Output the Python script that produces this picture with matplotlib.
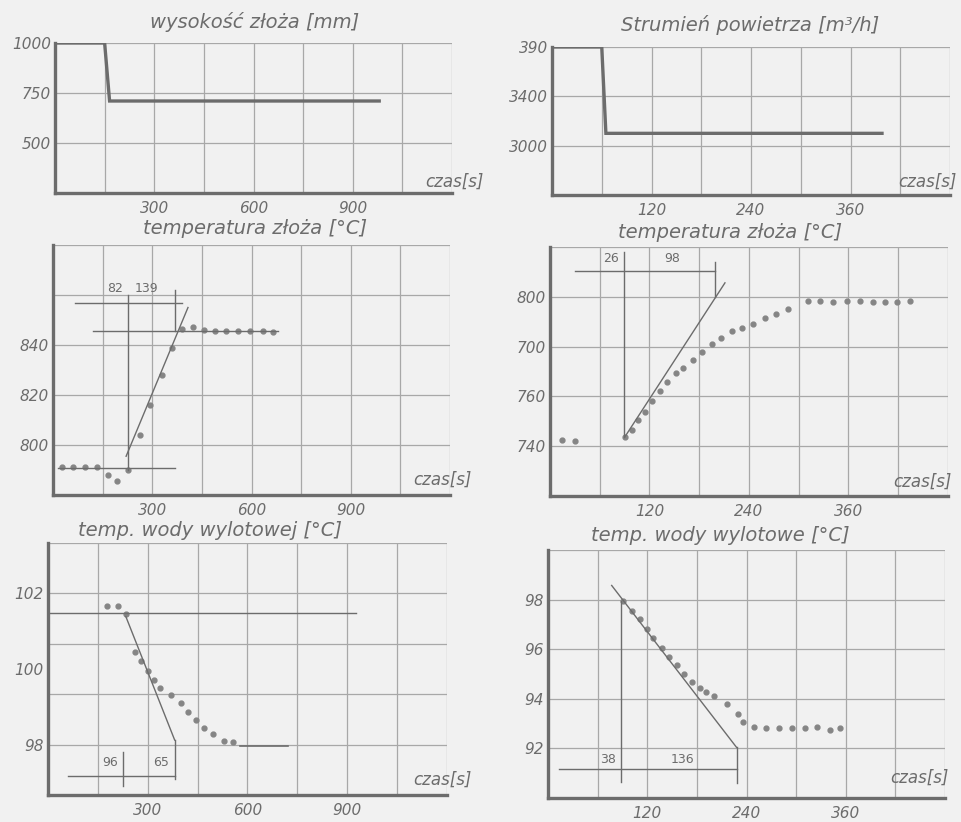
import matplotlib.pyplot as plt
import numpy as np

W, H = 962, 822
BG = '#f1f1f1'
INK = '#6c6c6c'
GRID = '#a8a8a8'
FONT = ['DejaVu Sans']

# --- panel 1: wysokosc zloza [mm]
h_t = [0, 150, 165, 980]
h_v = [1000, 1000, 710, 710]

# --- panel 2: strumien powietrza [m3/h]
q_t = [0, 60, 65, 398]
q_v = [3800, 3800, 3100, 3100]

# --- panel 3: temperatura zloza, czas do 1200 s
ta_t = [27, 60, 97, 133, 166, 194, 228, 263, 293, 329, 360, 390, 423, 457,
        490, 523, 560, 596, 635, 665]
ta_v = [791.4, 791.4, 791.4, 791.4, 788.0, 785.7, 790.0, 804.0, 816.0, 828.0,
        839.0, 846.5, 847.3, 846.0, 845.5, 845.5, 845.5, 845.5, 845.7, 845.3]
ta_fit_t = [221, 408]
ta_fit_v = [795.5, 855.0]
ta_marks = ['82', '139']
ta_marks_t = [188, 284]

# --- panel 4: temperatura zloza, czas do 480 s
tb_t = [14, 30, 90, 98.5, 106, 115, 123, 133, 141, 151.6, 160, 172.6, 183,
        195, 206, 219, 231, 245, 259, 273, 287, 311, 326, 341, 358, 374,
        390, 404, 418, 434]
tb_v = [742.5, 742.0, 743.6, 746.5, 750.4, 753.6, 758.0, 762.0, 765.6, 769.2,
        771.6, 774.5, 778.0, 781.2, 783.3, 786.3, 787.3, 789.2, 791.6, 793.0,
        795.0, 798.4, 798.4, 798.0, 798.4, 798.2, 798.0, 798.0, 798.0, 798.2]
tb_fit_t = [90, 211]
tb_fit_v = [743.6, 805.6]
tb_marks = ['26', '98']
tb_marks_t = [74, 147]

# --- panel 5: temp. wody wylotowej, czas do 1200 s
wa_t = [178, 211, 234, 261, 281, 301, 318, 338, 371, 399, 421, 444, 468,
        496, 528, 556]
wa_v = [101.66, 101.66, 101.45, 100.46, 100.21, 99.96, 99.72, 99.50, 99.31,
        99.10, 98.86, 98.66, 98.43, 98.28, 98.10, 98.06]
wa_fit_t = [234, 381]
wa_fit_v = [101.39, 98.12]
wa_marks = ['96', '65']
wa_marks_t = [186, 341]

# --- panel 6: temp. wody wylotowej, czas do 480 s
wb_t = [91, 101, 111, 119.4, 127.4, 137.5, 146.7, 155.7, 164.5, 173.8, 183.9,
        191, 200.8, 216, 230, 236, 249, 264, 279, 295, 311, 325, 341, 353]
wb_v = [97.96, 97.53, 97.20, 96.80, 96.46, 96.06, 95.69, 95.37, 95.00, 94.66,
        94.44, 94.26, 94.13, 93.80, 93.40, 93.06, 92.86, 92.84, 92.84, 92.82,
        92.84, 92.86, 92.76, 92.84]
wb_fit_t = [77, 228]
wb_fit_v = [98.57, 92.04]
wb_marks = ['38', '136']
wb_marks_t = [72.6, 163]

fig = plt.figure(figsize=(W / 100, H / 100), dpi=100)
fig.patch.set_facecolor(BG)


def add_panel(left, top, right, bottom):
    return fig.add_axes([left / W, 1 - bottom / H, (right - left) / W, (bottom - top) / H])


def setup(ax, xlim, ylim, xstep, ystep, xticks, yticks, ylabels):
    ax.set_facecolor('none')
    ax.set_xlim(*xlim)
    ax.set_ylim(*ylim)
    # hand-drawn grid
    for x in np.arange(xlim[0] + xstep, xlim[1] + 1e-6, xstep):
        ax.axvline(x, color=GRID, lw=0.9, zorder=0)
    for y in np.arange(ylim[0] + ystep, ylim[1] + 1e-6, ystep):
        ax.axhline(y, color=GRID, lw=0.9, zorder=0)
    ax.set_xticks(xticks)
    ax.set_xticklabels([str(t) for t in xticks])
    ax.set_yticks(yticks)
    ax.set_yticklabels(ylabels)
    ax.tick_params(length=0, colors=INK, labelsize=11)
    ax.tick_params(axis='x', pad=6)
    ax.tick_params(axis='y', pad=3)
    for lab in ax.get_xticklabels() + ax.get_yticklabels():
        lab.set_fontstyle('italic')
        lab.set_family(FONT)
    for s in ['left', 'bottom']:
        ax.spines[s].set_color(INK)
        ax.spines[s].set_linewidth(2.4)
    for s in ['top', 'right']:
        ax.spines[s].set_visible(False)


def title(x, y, text):
    fig.text(x / W, 1 - y / H, text, ha='center', va='center', fontsize=14,
             style='italic', color=INK, family=FONT)


def czas(x, y):
    fig.text(x / W, 1 - y / H, 'czas[s]', ha='left', va='center',
             fontsize=12, style='italic', color=INK, family=FONT)


def marks(ax, labels, t, y):
    for lab, x in zip(labels, t):
        ax.text(x, y, lab, ha='center', va='center', fontsize=9, color=INK, family=FONT)


# panel 1
ax1 = add_panel(55, 43, 452, 193)
setup(ax1, (0, 1200), (250, 1000), 150, 250, [300, 600, 900],
      [500, 750, 1000], ['500', '750', '1000'])
ax1.plot(h_t, h_v, color=INK, lw=2.4, solid_joinstyle='miter')
czas(425, 182)
title(255, 22, 'wysokość złoża [mm]')

# panel 2
ax2 = add_panel(552, 47, 950, 195)
setup(ax2, (0, 480), (2600, 3800), 60, 400, [120, 240, 360],
      [3000, 3400, 3800], ['3000', '3400', '390'])
ax2.plot(q_t, q_v, color=INK, lw=2.4, solid_joinstyle='miter')
czas(898, 182)
title(750, 25, 'Strumień powietrza [m³/h]')

# panel 3
ax3 = add_panel(53, 245, 450, 495)
setup(ax3, (0, 1200), (780, 880), 150, 20, [300, 600, 900],
      [800, 820, 840], ['800', '820', '840'])
ax3.plot(ta_t, ta_v, 'o', color='#858585', ms=3.5)
ax3.plot(ta_fit_t, ta_fit_v, color=INK, lw=1.0)
ax3.plot([15, 370], [791, 791], color=INK, lw=1.0)
ax3.plot([120, 680], [845.5, 845.5], color=INK, lw=1.0)
ax3.plot([67, 390], [856.7, 856.7], color=INK, lw=1.0)
ax3.plot([228, 228], [790, 860], color=INK, lw=1.0)
ax3.plot([369, 369], [845.5, 862], color=INK, lw=1.0)
marks(ax3, ta_marks, ta_marks_t, 862.5)
czas(413, 480)
title(255, 228, 'temperatura złoża [°C]')

# panel 4
ax4 = add_panel(550, 247, 948, 496)
setup(ax4, (0, 480), (720, 820), 60, 20, [120, 240, 360],
      [740, 760, 780, 800], ['740', '760', '700', '800'])
ax4.plot(tb_t, tb_v, 'o', color='#858585', ms=3.5)
ax4.plot(tb_fit_t, tb_fit_v, color=INK, lw=1.0)
ax4.plot([30, 199], [810.4, 810.4], color=INK, lw=1.0)
ax4.plot([88.7, 88.7], [743.6, 818], color=INK, lw=1.0)
ax4.plot([199, 199], [800, 814], color=INK, lw=1.0)
marks(ax4, tb_marks, tb_marks_t, 815.5)
czas(893, 482)
title(730, 233, 'temperatura złoża [°C]')

# panel 5
ax5 = add_panel(48, 543, 447, 795)
setup(ax5, (0, 1200), (98 - 4 / 3, 98 + 16 / 3), 150, 4 / 3, [300, 600, 900],
      [98, 100, 102], ['98', '100', '102'])
ax5.plot(wa_t, wa_v, 'o', color='#858585', ms=3.5)
ax5.plot(wa_fit_t, wa_fit_v, color=INK, lw=1.0)
ax5.plot([6, 926], [101.47, 101.47], color=INK, lw=1.0)
ax5.plot([576, 721], [97.95, 97.95], color=INK, lw=1.2)
ax5.plot([61, 381], [97.16, 97.16], color=INK, lw=1.0)
ax5.plot([381, 381], [98.12, 97.1], color=INK, lw=1.0)
ax5.plot([226, 226], [97.8, 96.9], color=INK, lw=1.0)
marks(ax5, wa_marks, wa_marks_t, 97.53)
czas(413, 780)
title(210, 530, 'temp. wody wylotowej [°C]')

# panel 6
ax6 = add_panel(548, 550, 945, 798)
setup(ax6, (0, 480), (90, 100), 60, 2, [120, 240, 360],
      [92, 94, 96, 98], ['92', '94', '96', '98'])
ax6.plot(wb_t, wb_v, 'o', color='#858585', ms=3.5)
ax6.plot(wb_fit_t, wb_fit_v, color=INK, lw=1.0)
ax6.plot([13, 229], [91.16, 91.16], color=INK, lw=1.0)
ax6.plot([88, 88], [97.96, 90.66], color=INK, lw=1.0)
ax6.plot([229, 229], [92.04, 90.6], color=INK, lw=1.0)
marks(ax6, wb_marks, wb_marks_t, 91.55)
czas(890, 778)
title(720, 535, 'temp. wody wylotowe [°C]')

fig.savefig('out.png', dpi=100, facecolor=BG)
